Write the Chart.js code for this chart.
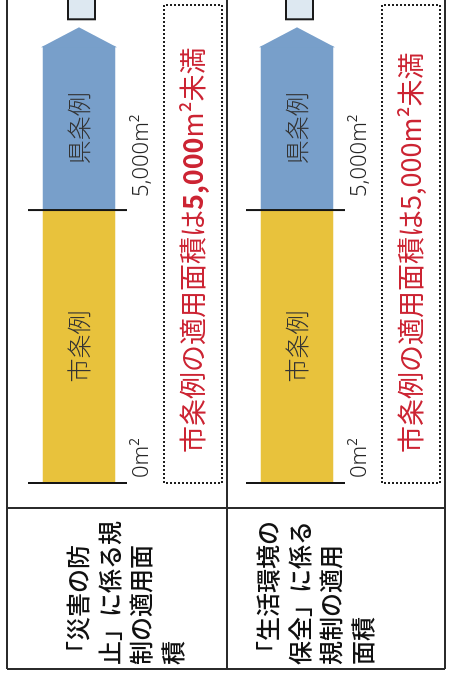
<!DOCTYPE html>
<html lang="ja">
<head>
<meta charset="utf-8">
<title>適用面積</title>
<script src="https://cdn.jsdelivr.net/npm/chart.js@4.4.1/dist/chart.umd.min.js"></script>
<style>
  html, body { margin: 0; padding: 0; background: #fff; }
  body { width: 452px; height: 673px; overflow: hidden; position: relative; }
  /* the sheet is drawn upright, then turned to match the scan */
  #sheet { position: absolute; left: 0; top: 0; width: 673px; height: 452px;
           transform-origin: 0 0; transform: translate(0, 673px) rotate(-90deg); }
</style>
</head>
<body>
<div id="sheet"><canvas id="area" width="673" height="452"></canvas></div>
<script>
// rows of the table (label lines as printed)
const rowLabels = [
  ['「災害の防', '止」に係る規', '制の適用面', '積'],
  ['「生活環境の', '保全」に係る', '規制の適用', '面積']
];
const seriesNames = ['市条例', '県条例'];
const cityValues = [5000, 5000];
const prefValues = [3000, 3000];
const tickValues = [0, 5000];
const tickLabels = ['0', '5,000'];
const unitLabel = 'm²';
const notePrefix = '市条例の適用面積は';
const noteValue = '5,000';
const noteSuffix = '未満';

const JP = "'Noto Sans CJK JP', 'Noto Sans', sans-serif";
const RED = '#cc2433';
const labelShift = [-1, -29];     // first label line vs bar centre
const tickShift = [5, 13];        // tick label start after tick line
const boldNote = [true, false];

// centre the glyphs themselves on y, whatever the font metrics say
function fillMid(ctx, text, x, y) {
  ctx.textBaseline = 'alphabetic';
  const m = ctx.measureText(text);
  ctx.fillText(text, x, y + (m.actualBoundingBoxAscent - m.actualBoundingBoxDescent) / 2);
}

const sheetPlugin = {
  id: 'sheet',
  beforeDatasetsDraw(chart) {
    const ctx = chart.ctx;
    const ys = chart.scales.y;
    const top = ys.getPixelForValue(0) - 72;
    const bottom = ys.getPixelForValue(rowLabels.length - 1) + 148;
    ctx.save();
    ctx.strokeStyle = '#2b2b2b';
    ctx.lineWidth = 2;
    ctx.beginPath();
    ctx.moveTo(4, top); ctx.lineTo(chart.width, top);
    rowLabels.forEach((r, i) => {
      const y = ys.getPixelForValue(i) + 148;
      ctx.moveTo(4, y); ctx.lineTo(chart.width, y);
    });
    ctx.moveTo(4, top); ctx.lineTo(4, bottom);
    ctx.moveTo(165, top); ctx.lineTo(165, bottom);
    ctx.stroke();
    ctx.restore();
  },
  afterDatasetsDraw(chart) {
    const ctx = chart.ctx;
    const xs = chart.scales.x;
    const city = chart.getDatasetMeta(0).data;
    const pref = chart.getDatasetMeta(1).data;
    ctx.save();

    rowLabels.forEach((lines, i) => {
      const cb = city[i].getProps(['x', 'y', 'base', 'height'], true);
      const pb = pref[i].getProps(['x', 'y', 'base', 'height'], true);
      const cy = cb.y;
      const half = pb.height / 2;

      // arrow head on the 県条例 bar
      ctx.fillStyle = chart.data.datasets[1].backgroundColor;
      ctx.beginPath();
      ctx.moveTo(pb.x - 1, cy - half - 2);
      ctx.lineTo(pb.x + 19, cy);
      ctx.lineTo(pb.x - 1, cy + half + 2);
      ctx.closePath();
      ctx.fill();

      // little box beyond the arrow (cut by the page edge)
      ctx.fillStyle = '#dde8f1';
      ctx.strokeStyle = '#1a1a1a';
      ctx.lineWidth = 2;
      ctx.fillRect(pb.x + 27, cy - 11, 40, 27);
      ctx.strokeRect(pb.x + 27, cy - 11, 40, 27);

      // tick lines and labels
      ctx.strokeStyle = '#151515';
      ctx.lineWidth = 2;
      ctx.fillStyle = '#262626';
      ctx.textAlign = 'left';
      tickValues.forEach((v, k) => {
        const px = xs.getPixelForValue(v);
        ctx.beginPath();
        ctx.moveTo(px, cy - 51);
        ctx.lineTo(px, cy + 48);
        ctx.stroke();
        ctx.font = "300 22px 'Noto Sans', sans-serif";
        ctx.textBaseline = 'middle';
        ctx.fillText(tickLabels[k] + unitLabel, px + tickShift[k], cy + 63);
      });

      // series names inside the bars
      ctx.fillStyle = '#333';
      ctx.textAlign = 'center';
      ctx.font = '300 24px ' + JP;
      fillMid(ctx, seriesNames[0], (cb.base + cb.x) / 2, cy);
      fillMid(ctx, seriesNames[1], (pb.base + pb.x) / 2, cy);

      // dotted note box
      const bx0 = xs.getPixelForValue(0);
      const by0 = cy + 85, by1 = cy + 143;
      ctx.strokeStyle = '#1e1e1e';
      ctx.lineWidth = 2;
      ctx.setLineDash([2, 2]);
      ctx.strokeRect(bx0, by0, chart.width - 5 - bx0, by1 - by0);
      ctx.setLineDash([]);

      // note text
      ctx.fillStyle = RED;
      ctx.textAlign = 'left';
      ctx.textBaseline = 'middle';
      let tx = bx0 + 30;
      const ty = (by0 + by1) / 2;
      const parts = [
        [notePrefix, '400'],
        [noteValue, boldNote[i] ? 'bold' : '400'],
        [unitLabel, '400'],
        [noteSuffix, '400']
      ];
      parts.forEach(([t, w]) => {
        ctx.font = w + ' 27px ' + JP;
        ctx.fillText(t, tx, ty);
        tx += ctx.measureText(t).width;
      });

      // row label in the left column
      ctx.fillStyle = '#111';
      ctx.font = '500 24px ' + JP;
      lines.forEach((l, k) => {
        ctx.fillText(l, 8, cy + labelShift[i] + k * 31.5);
      });
    });
    ctx.restore();
  }
};

new Chart(document.getElementById('area'), {
  type: 'bar',
  data: {
    labels: rowLabels,
    datasets: [
      { label: seriesNames[0], data: cityValues, backgroundColor: '#e8c23c' },
      { label: seriesNames[1], data: prefValues, backgroundColor: '#789fca' }
    ]
  },
  options: {
    indexAxis: 'y',
    responsive: false,
    animation: false,
    devicePixelRatio: 1,
    datasets: { bar: { barThickness: 72, borderWidth: 0, clip: false } },
    layout: { padding: { left: 190, right: 19, top: 79, bottom: 155 } },
    scales: {
      x: { stacked: true, display: false, min: 0, max: 8500 },
      y: { stacked: true, display: false, offset: false }
    },
    plugins: { legend: { display: false }, tooltip: { enabled: false } }
  },
  plugins: [sheetPlugin]
});
</script>
</body>
</html>
